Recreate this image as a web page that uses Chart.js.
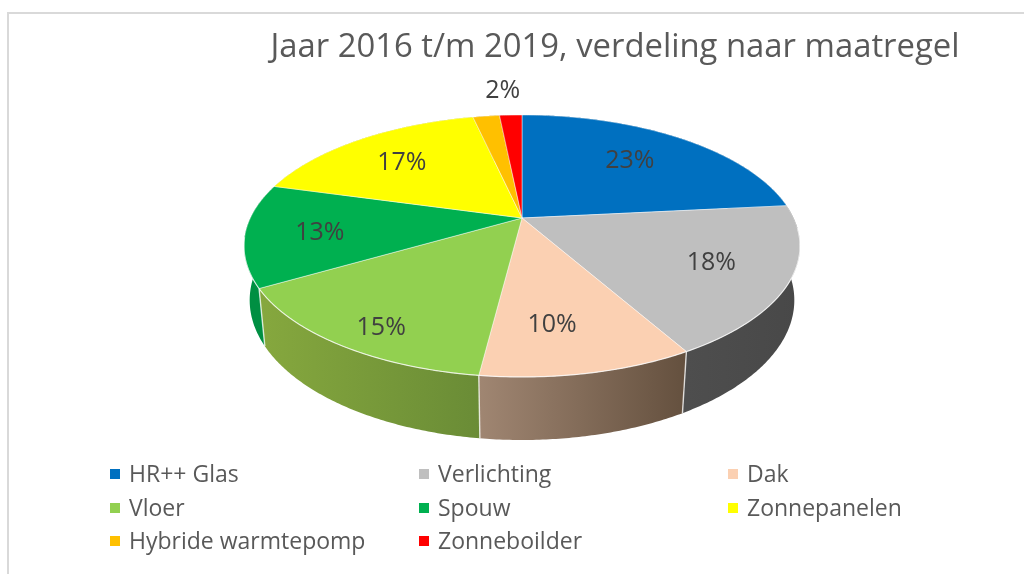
<!DOCTYPE html>
<html><head><meta charset="utf-8">
<style>html,body{margin:0;padding:0;background:#fff}#w{position:relative;width:1024px;height:574px}canvas{display:block;filter:blur(0.4px)}</style>
<script src="https://cdn.jsdelivr.net/npm/chart.js@4/dist/chart.umd.js"></script>
</head><body><div id="w"><canvas id="c" width="1024" height="574"></canvas></div>
<script>
const titleText = 'Jaar 2016 t/m 2019, verdeling naar maatregel';
const categories = ['HR++ Glas','Verlichting','Dak','Vloer','Spouw','Zonnepanelen','Hybride warmtepomp','Zonneboilder'];
const shares = [23.4,18.4,10.2,14.6,12.7,17.2,1.9,1.6];
const colors = ['#0070C0','#BFBFBF','#FBD0B2','#92D050','#00B050','#FFFF00','#FFC000','#FF0000'];
const wallLeft = ['#00508a','#4E4E4E','#a08672','#86A83E','#008F42','#b0b000','#b08500','#b00000'];
const wallRight = ['#00508a','#484848','#64503E','#6A8C36','#008F42','#b0b000','#b08500','#b00000'];
const labelNudge = [[-7,1],[8,2],[-13,6],[-21,26],[-10,3],[-2,2],null,[-11,-51]];

const FONT = '"Open Sans"';
// perspective projection of the pie disc
const P = {ax:522, ay:218, A:271.6, b:125, k:0.2137, e:0.02, D:54};
function topPt(u,v){const w=1-P.k*v;return [P.ax+P.A*u/w, P.ay+P.b*v/w];}
function botPt(u,v){const w=1-P.k*v+P.e;return [P.ax+P.A*u/w, P.ay+(P.b*v+P.D)/w];}
function arcPts(fn,a0,a1){const n=Math.max(2,Math.ceil(Math.abs(a1-a0)/0.01));const r=[];
  for(let i=0;i<=n;i++){const t=a0+(a1-a0)*i/n;r.push(fn(Math.cos(t),Math.sin(t)));}return r;}
function path(ctx,pts){pts.forEach((p,i)=>i?ctx.lineTo(p[0],p[1]):ctx.moveTo(p[0],p[1]));}

const pie3d = {
  id:'pie3d',
  beforeDraw(chart){
    const ctx=chart.ctx;ctx.save();ctx.fillStyle='#D9D9D9';
    ctx.fillRect(7,12,1017,2);ctx.fillRect(7,12,2,562);ctx.restore();
  },
  beforeDatasetsDraw(chart){
    const ctx=chart.ctx, arcs=chart.getDatasetMeta(0).data;
    ctx.save();
    // walls
    arcs.forEach((a,i)=>{
      const t=arcPts(topPt,a.startAngle,a.endAngle), b=arcPts(botPt,a.startAngle,a.endAngle).reverse();
      const xs=t.map(p=>p[0]);const g=ctx.createLinearGradient(Math.min(...xs),0,Math.max(...xs),0);
      g.addColorStop(0,wallLeft[i]);g.addColorStop(1,wallRight[i]);
      ctx.beginPath();path(ctx,t.concat(b));ctx.closePath();
      ctx.fillStyle=g;ctx.fill();
    });
    // wall separators on the front side
    arcs.forEach(a=>{
      const u=Math.cos(a.startAngle),v=Math.sin(a.startAngle);
      if(v<=0.3)return;
      const p=topPt(u,v),q=botPt(u,v);
      ctx.beginPath();ctx.moveTo(p[0],p[1]);ctx.lineTo(q[0],q[1]);
      ctx.strokeStyle='rgba(255,255,255,.75)';ctx.lineWidth=1.4;ctx.stroke();
    });
    // top faces
    arcs.forEach((a,i)=>{
      ctx.beginPath();path(ctx,[[P.ax,P.ay]].concat(arcPts(topPt,a.startAngle,a.endAngle)));ctx.closePath();
      ctx.fillStyle=colors[i];ctx.fill();
      ctx.strokeStyle='rgba(255,255,255,.45)';ctx.lineWidth=1;ctx.lineJoin='round';ctx.stroke();
    });
    // light front rim
    ctx.beginPath();path(ctx,arcPts(topPt,0.08,Math.PI-0.15));
    ctx.strokeStyle='rgba(255,255,255,.6)';ctx.lineWidth=1.2;ctx.stroke();
    ctx.restore();
    return false;
  },
  afterDraw(chart){
    const ctx=chart.ctx, arcs=chart.getDatasetMeta(0).data, vals=chart.data.datasets[0].data;
    ctx.save();
    ctx.font='25px '+FONT;ctx.fillStyle='#404040';ctx.textAlign='center';ctx.textBaseline='middle';
    arcs.forEach((a,i)=>{
      if(!labelNudge[i])return;
      const m=(a.startAngle+a.endAngle)/2,p=topPt(.7*Math.cos(m),.7*Math.sin(m));
      ctx.fillText(Math.round(vals[i])+'%',p[0]+labelNudge[i][0],p[1]+labelNudge[i][1]);
    });
    ctx.font='23px '+FONT;ctx.textAlign='left';
    const colX=[110,419,728],rowY=[474,508,541];
    chart.data.labels.forEach((l,i)=>{
      const x=colX[i%3],y=rowY[Math.floor(i/3)];
      ctx.fillStyle=colors[i];ctx.fillRect(x,y-5,10,10);
      ctx.fillStyle='#595959';ctx.fillText(l,x+19,y+1);
    });
    ctx.restore();
  }
};

new Chart(document.getElementById('c'),{
  type:'pie',
  data:{labels:categories,datasets:[{data:shares,backgroundColor:colors,borderWidth:0}]},
  options:{
    responsive:false,animation:false,
    layout:{padding:{left:206,top:0}},
    plugins:{
      legend:{display:false},tooltip:{enabled:false},
      title:{display:true,text:titleText,color:'#595959',font:{family:FONT,size:32.85,weight:'normal'},padding:{top:28,bottom:10}}
    }
  },
  plugins:[pie3d]
});
</script></body></html>
